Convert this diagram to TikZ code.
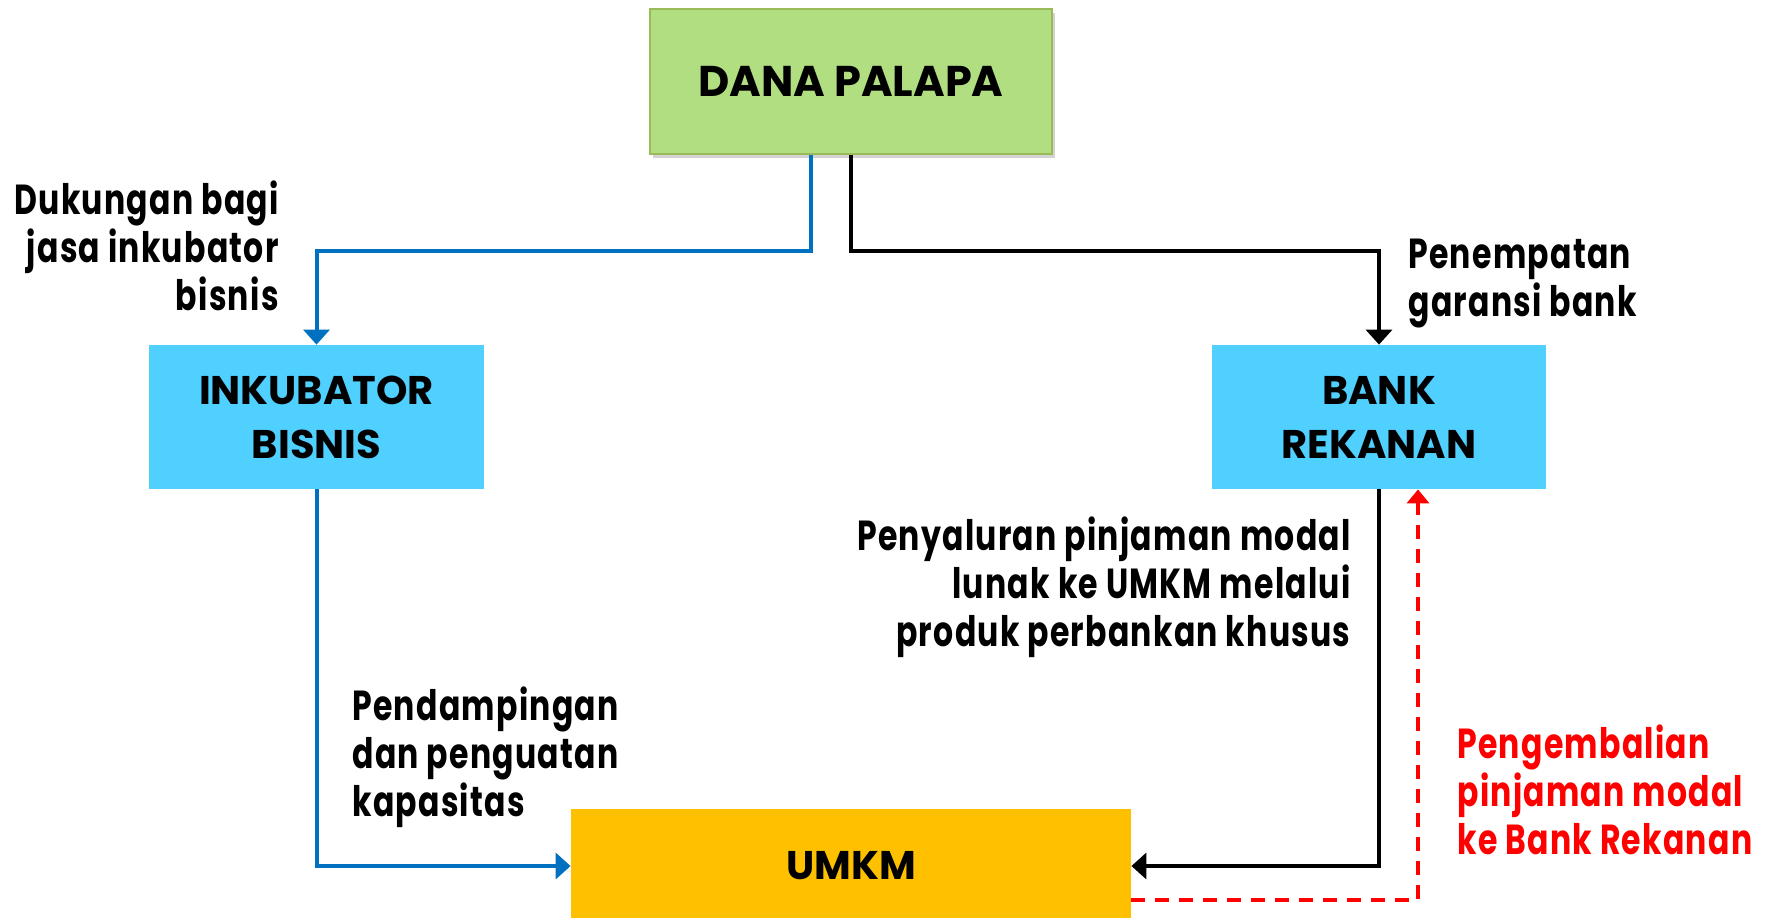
\documentclass[tikz,border=0pt]{standalone}
\usepackage{fontspec}
\setmainfont{Poppins}
\newfontfamily\condfont[FakeStretch=0.75,LetterSpace=3]{Poppins}
\usepackage{tikz}
\usetikzlibrary{arrows.meta}
\usetikzlibrary{shadows}

\definecolor{danagreen}{RGB}{178,222,130}
\definecolor{danaedge}{RGB}{155,187,89}
\definecolor{boxcyan}{RGB}{79,208,255}
\definecolor{umkmgold}{RGB}{255,192,0}
\definecolor{lineblue}{RGB}{0,112,192}

\begin{document}
\begin{tikzpicture}[x=0.5pt,y=-0.5pt,
    box/.style={inner sep=0pt, align=center, font=\bfseries\fontsize{20}{27}\selectfont},
    lbl/.style={inner sep=0pt, font=\condfont\bfseries\fontsize{21}{24}\selectfont},
    tip/.style={-{Triangle[width=13pt,length=7.5pt]}},
    flow/.style={tip, line width=2pt},
    back/.style={-{Triangle[width=11pt,length=7pt]}, line width=2pt, red, dash pattern=on 7pt off 5pt}]
    \useasboundingbox (0,0) rectangle (1779,917);

    % Boxes
    \node[box, font=\bfseries\fontsize{21.5}{27}\selectfont, fill=danagreen, draw=danaedge, line width=1pt,
          minimum width=201pt, minimum height=72.5pt,
          drop shadow={opacity=0.35, shadow xshift=1.5pt, shadow yshift=-2pt}] (dana) at (851,81) {DANA PALAPA};
    \node[box, fill=boxcyan, minimum width=167.5pt, minimum height=72pt] (inkub) at (316.5,417) {INKUBATOR\\BISNIS};
    \node[box, fill=boxcyan, minimum width=167pt, minimum height=72pt] (bank) at (1379,417) {BANK\\REKANAN};
    \node[box, fill=umkmgold, minimum width=280pt, minimum height=57pt] (umkm) at (851,866) {UMKM};

    % Flows
    \draw[flow, lineblue] ([xshift=-20pt]dana.south) -- ++(0,96) -| (inkub.north);
    \draw[flow] (dana.south) -- ++(0,96) -| (bank.north);
    \draw[flow, lineblue] (inkub.south) |- (umkm.west);
    \draw[flow] (bank.south) |- (umkm.east);
    \draw[back] ([yshift=-17pt]umkm.east) -| ([xshift=19.5pt]bank.south);

    % Labels
    \node[lbl, anchor=north east, align=right] (lblDukungan) at (279,180) {Dukungan bagi\\jasa inkubator\\bisnis};
    \node[lbl, anchor=north west, align=left] (lblPenempatan) at (1408,239) {Penempatan\\garansi bank};
    \node[lbl, anchor=north east, align=right] (lblPenyaluran) at (1351,516) {Penyaluran pinjaman modal\\lunak ke UMKM melalui\\produk perbankan khusus};
    \node[lbl, anchor=north west, align=left] (lblPendampingan) at (352,686) {Pendampingan\\dan penguatan\\kapasitas};
    \node[lbl, anchor=north west, align=left, red] (lblPengembalian) at (1457,724) {Pengembalian\\pinjaman modal\\ke Bank Rekanan};
\end{tikzpicture}
\end{document}
